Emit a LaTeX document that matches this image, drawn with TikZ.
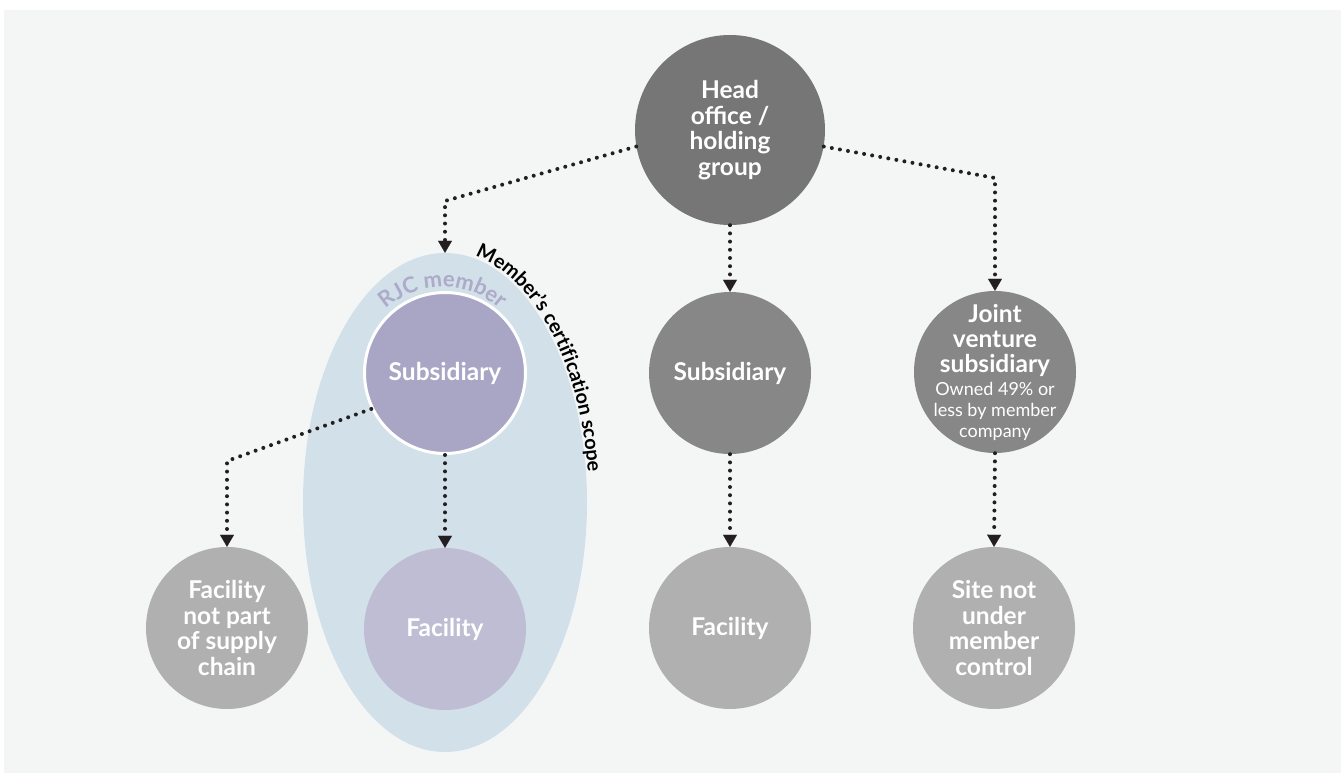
\documentclass[tikz,border=0pt]{standalone}
\usepackage{fontspec}
\setmainfont{Lato}
\usetikzlibrary{arrows.meta,shapes.geometric,decorations.text}
\definecolor{bg}{HTML}{F4F6F6}
\definecolor{ellc}{HTML}{D2E0E9}
\definecolor{darkc}{HTML}{767676}
\definecolor{midgc}{HTML}{878787}
\definecolor{lightc}{HTML}{B0B0B0}
\definecolor{lavA}{HTML}{A9A6C5}
\definecolor{lavB}{HTML}{BFBDD4}
\definecolor{rjct}{HTML}{ADAACA}
\definecolor{dotc}{HTML}{231F20}
\begin{document}
\begin{tikzpicture}[x=1pt,y=-1pt,
  circ/.style={circle, inner sep=0pt, minimum size=162pt, text=white, align=center,
    font=\fontsize{24.5}{25.5}\selectfont\bfseries},
  conn/.style={draw=dotc, line width=4pt, line cap=round, dash pattern=on 0pt off 8.2pt,
    -{Triangle[width=14pt,length=12pt,line width=0.1pt]}}]
\useasboundingbox (0,0) rectangle (1341,773);
\fill[bg] (4,10) rectangle (1341,773);
% scope ellipse
\node[ellipse, fill=ellc, inner sep=0pt, minimum width=284pt, minimum height=499pt] (scope) at (445,502.5) {};
% circles
\node[circ, fill=darkc, minimum size=190pt] (head) at (730,130) {Head\\office /\\holding\\group};
\node[circ, fill=lavA, draw=white, line width=3pt, minimum size=161pt] (sub1) at (445,373) {Subsidiary};
\node[circ, fill=midgc] (sub2) at (730,373) {Subsidiary};
\node[circ, fill=midgc] (jv) at (995,372) {};
\node[text=white, inner sep=0pt, text width=170pt, align=flush center,
  font=\fontsize{24.5}{25}\selectfont\bfseries] (jvtext) at (jv.center)
  {Joint\\venture\\subsidiary\par\vspace{2pt}
   {\fontsize{18}{21}\selectfont\mdseries Owned 49\% or\\less by member\\company\par}};
\node[circ, fill=lightc] (fac0) at (227,628) {Facility\\not part\\of supply\\chain};
\node[circ, fill=lavB] (fac1) at (445,629) {Facility};
\node[circ, fill=lightc] (fac2) at (730,628) {Facility};
\node[circ, fill=lightc] (site) at (994,628) {Site not\\under\\member\\control};
% curved labels
\path[decorate, decoration={text along path, text align=center, text color=rjct,
   text={|\fontsize{22}{22}\selectfont\bfseries|RJC member}}]
   ([shift={(443,373)}]-170:86 and 86) arc[start angle=-170, end angle=-10, radius=86];
\path[decorate, decoration={text along path, text align=left, text color=black,
   text={|\fontsize{19.8}{19.8}\selectfont\bfseries|Member’s certification scope}}]
   ([shift={(445,502.5)}]-78:144 and 252) arc[start angle=-78, end angle=5, x radius=144, y radius=252];
% connectors
\coordinate (c1) at (445,201);
\coordinate (c2) at (995,178);
\coordinate (c3) at (227,461);
\draw[conn] (head.190) -- (c1) -- (scope.north);
\draw[conn] (head.south) -- (sub2.north);
\draw[conn] (head.-10) -- (c2) -- (jv.north);
\draw[conn] (sub1.206) -- (c3) -- (fac0.north);
\draw[conn] (sub1.south) -- (fac1.north);
\draw[conn] (sub2.south) -- (fac2.north);
\draw[conn] (jv.south) -- (site.north);
\end{tikzpicture}
\end{document}
